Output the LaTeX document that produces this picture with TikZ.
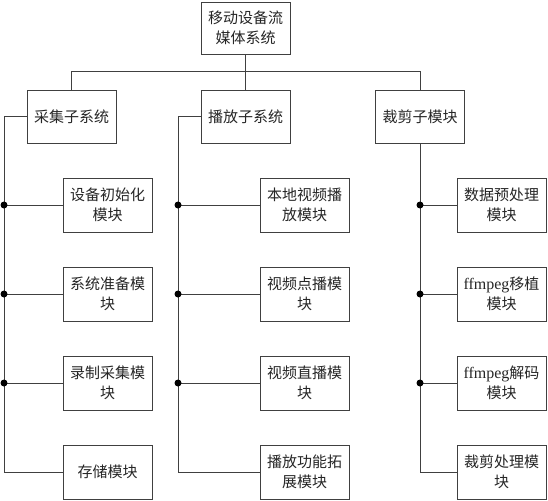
\documentclass[tikz,border=0pt]{standalone}
\usepackage{fontspec}
\setmainfont{Noto Sans CJK SC}
\newfontfamily\latinserif{Liberation Serif}
\begin{document}
\begin{tikzpicture}[x=1pt,y=-1pt,
  lin/.style={draw=black!75,line width=0.8pt},
  box/.style={lin,fill=white,minimum width=89pt,inner sep=1pt,align=center,
    font=\fontsize{15}{20}\selectfont,text=black!85},
  boxa/.style={box,minimum height=52pt},
  boxm/.style={box,minimum height=54pt},
  jdot/.style={circle,fill=black,inner sep=0pt,minimum size=7pt}]
\useasboundingbox (0,0) rectangle (548,500);
\coordinate (bus) at (0,71);
\coordinate (busL) at (4,0);
\coordinate (busM) at (178,0);
% top
\node[boxa] (top) at (245.5,28) {移动设备流\\媒体系统};
% level 2
\node[boxa,minimum height=53pt] (c1) at (71.5,116.5) {采集子系统};
\node[boxa,minimum height=53pt] (c2) at (245.5,116.5) {播放子系统};
\node[boxa,minimum height=53pt] (c3) at (420,116.5) {裁剪子模块};
% modules left
\node[boxm] (m11) at (107.5,205) {设备初始化\\模块};
\node[boxm] (m12) at (107.5,294) {系统准备模\\块};
\node[boxm] (m13) at (107.5,383) {录制采集模\\块};
\node[boxm] (m14) at (107.5,472) {存储模块};
% modules middle
\node[boxm] (m21) at (304.5,205) {本地视频播\\放模块};
\node[boxm] (m22) at (304.5,294) {视频点播模\\块};
\node[boxm] (m23) at (304.5,383) {视频直播模\\块};
\node[boxm] (m24) at (304.5,472) {播放功能拓\\展模块};
% modules right
\node[boxm] (m31) at (501.5,205) {数据预处理\\模块};
\node[boxm] (m32) at (501.5,294) {{\latinserif\fontsize{16}{20}\selectfont ffmpeg}移植\\模块};
\node[boxm] (m33) at (501.5,383) {{\latinserif\fontsize{16}{20}\selectfont ffmpeg}解码\\模块};
\node[boxm] (m34) at (501.5,472) {裁剪处理模\\块};
% connectors
\draw[lin] (top.south) -- (c2.north);
\draw[lin] (c1.north) -- (c1.north |- bus) -- (c3.north |- bus) -- (c3.north);
\draw[lin] (c1.west) -- (c1.west -| busL) |- (m14.west);
\draw[lin] (c2.west) -- (c2.west -| busM) |- (m24.west);
\draw[lin] (c3.south) |- (m34.west);
\foreach \m in {m11,m12,m13}{
  \draw[lin] (\m.west) -- (\m.west -| busL) node[jdot]{};
}
\foreach \m in {m21,m22,m23}{
  \draw[lin] (\m.west) -- (\m.west -| busM) node[jdot]{};
}
\foreach \m in {m31,m32,m33}{
  \draw[lin] (\m.west) -- (\m.west -| c3.south) node[jdot]{};
}
\end{tikzpicture}
\end{document}
